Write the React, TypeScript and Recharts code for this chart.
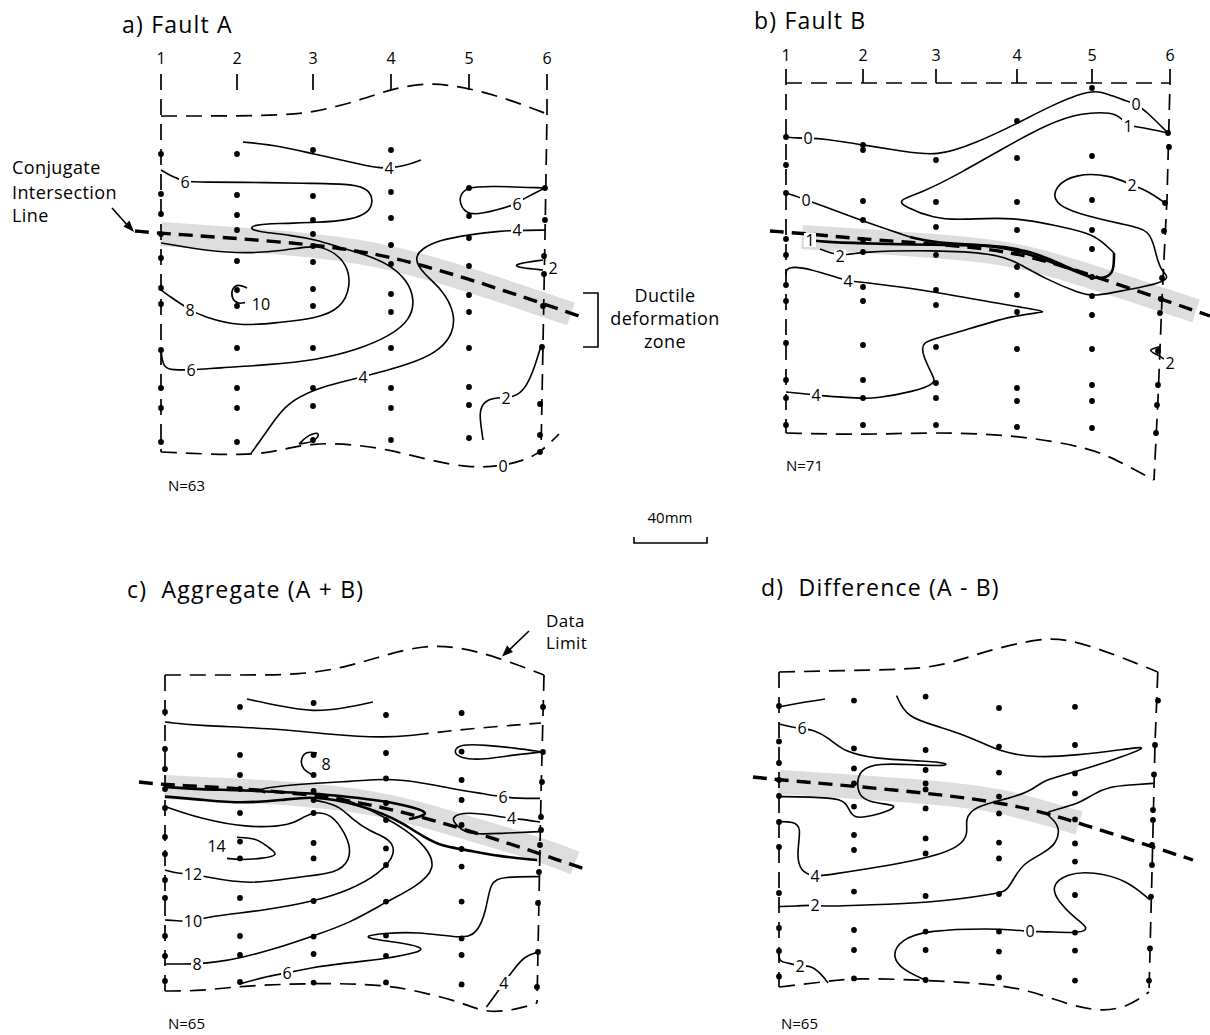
import React from 'react'
import { ComposedChart, Line, Scatter, XAxis, YAxis } from 'recharts'

type Pt = [number, number]
type Tag = [number, number, string]

// All positions are in mm on the sampled face: x from column 1, y down from the top data limit.
const COL_LABELS = ['1', '2', '3', '4', '5', '6']

// ---------- a) Fault A ----------
const A_COLS = [0, 38, 76, 115, 154, 193]
const A_DEPTHS = [
  [19, 39, 49, 59, 71, 86, 94, 117, 136, 146, 163],
  [19, 39.5, 49.5, 57, 72.5, 87, 95, 116, 136, 146, 163],
  [17, 40, 52, 59, 65, 73, 86.5, 95, 116, 136, 145, 162],
  [17, 38, 51, 64.5, 74, 89, 98, 116, 136, 146, 162],
  [36, 50, 61, 75, 89.5, 98, 116, 135.5, 144.5, 161],
]
const A_COL6: Pt[] = [[192, 36], [192, 52], [191.5, 70], [191.5, 79], [191, 95], [190.5, 115.5], [189.5, 144], [189.5, 159.5], [189.5, 168]]
const A_TOP: Pt[] = [[0, 0], [54, 0], [76, -1.5], [100, -8], [115, -13.5], [134, -17], [154, -14], [175, -8], [193, -1]]
const A_LEFT: Pt[] = [[0, -21], [0, 168]]
const A_RIGHT: Pt[] = [[193, -21], [193, -1], [192, 60], [190, 168]]
const A_BOTTOM: Pt[] = [[0, 168], [44, 170], [60, 167], [76, 163.5], [95, 164], [115, 167], [134, 172], [154, 176], [171, 175], [182, 172], [190, 168], [199, 159]]
const A_CONJ: Pt[] = [[-13, 57.5], [0, 58.7], [76, 63.7], [124.5, 71.2], [209, 100]]
const A_ZONE: Pt[] = [[0, 59], [76, 64], [124, 71.5], [205, 99]]
const A_C4_TOP: Pt[] = [[41, 13], [60, 15], [76, 19], [95, 23], [108, 26], [114, 26], [122, 25], [130, 22]]
const A_C6: Pt[] = [[0, 27], [5, 30], [12, 33], [20, 33], [55, 33.3], [74, 33.7], [97, 34], [104, 37], [106, 42], [104.5, 48], [95, 52], [78, 53.3], [58, 53.7], [46, 54.5], [44.5, 56.5], [49.5, 58], [64.5, 59.5], [78, 62], [88, 65.3], [103, 69.5], [114.5, 74.5], [123, 82], [127, 92], [124.5, 102], [114.5, 110], [98, 117], [78, 122], [53, 124.5], [28, 126], [15, 127], [6, 127], [1, 126], [0, 117]]
const A_C8: Pt[] = [[0, 63.5], [14.5, 66], [38, 69], [61, 67.5], [76, 64.5], [85, 67], [93, 73.7], [95, 85.3], [90, 96.2], [78, 101.2], [58, 103.3], [39.5, 105.3], [21, 100.3], [14.5, 97], [4.5, 90.3], [0, 87]]
const A_C10: Pt[] = [[43, 86], [38.7, 84], [35.3, 86.2], [35.3, 91.2], [38.2, 94], [42, 93.3]]
const A_C4_MID: Pt[] = [[192, 57], [178, 57.3], [171, 57.3], [153, 59.5], [139.5, 62], [130.3, 66.2], [126.5, 71.5], [131, 78.7], [141, 87], [147, 98.7], [146, 108.7], [139.5, 117], [128, 122.8], [111, 127.8], [101, 130.3], [90, 133], [78, 136.2], [62.4, 143.7], [54.6, 155.3], [45, 168.7]]
const A_C6_LOOP: Pt[] = [[192, 36], [180, 42], [178, 44], [168, 47], [155, 50], [150, 46], [149, 40], [153, 35.5], [165, 35], [192, 36]]
const A_C2_LOOP: Pt[] = [[191, 72], [183, 73], [176, 74.5], [180, 76], [191, 77]]
const A_C2_LOW: Pt[] = [[190, 115], [187, 125], [183, 135], [178, 140], [172.5, 141], [163, 141], [159, 147], [160, 155], [161, 162]]
const A_C0_LOOP: Pt[] = [[69, 164], [74, 159], [80, 158], [77, 163], [69, 164]]
const A_TAGS: Tag[] = [[114, 26, '4'], [12, 33, '6'], [15, 127, '6'], [14.5, 97, '8'], [50, 94, '10'], [101, 130.5, '4'], [178, 57.3, '4'], [178, 44, '6'], [196, 76, '2'], [172.5, 141, '2'], [171, 175, '0']]

// ---------- b) Fault B ----------
const B_COLS = [0, 38.5, 75, 115.5, 153, 192]
const B_DEPTHS = [
  [27, 41, 55, 78, 86, 101, 109, 130, 148.5, 157.5, 171],
  [31, 33.5, 59, 68.5, 78.5, 84.5, 102, 109, 131, 148.5, 157.5, 171],
  [38.5, 59.5, 72, 86, 103.5, 111, 132, 150, 157.5, 171],
  [19, 37.5, 59.5, 73.5, 84, 92, 106, 114.5, 133, 152.5, 159, 172],
  [2.5, 36.5, 58.5, 73.5, 83, 97, 106.5, 116, 133, 151, 159, 172.5],
]
const B_COL6: Pt[] = [[191, 25], [191.5, 32], [189.5, 60], [189, 74], [188, 97.5], [187.5, 108], [187, 115], [186, 134], [186, 151], [185.5, 161], [185, 175]]
const B_TOP: Pt[] = [[0, 0], [192, 0]]
const B_LEFT: Pt[] = [[0, -7], [0, 175]]
const B_RIGHT: Pt[] = [[192, -7], [192, 0], [190.5, 58], [188, 108], [186, 158], [184, 198.5]]
const B_BOTTOM: Pt[] = [[0, 175], [38.5, 176], [75, 174.5], [115.5, 176], [153, 182.5], [168, 190], [184, 198.5]]
const B_CONJ: Pt[] = [[-8, 74], [18, 76], [37, 78], [75, 80.5], [114, 84], [150, 95], [212, 116.5]]
const B_ZONE: Pt[] = [[8, 77], [40, 79], [75, 81.5], [114, 85], [150, 96], [175, 104], [205, 114]]
const B_C0_TOP: Pt[] = [[0, 27], [6, 27.5], [11, 27.7], [18, 27.7], [38.5, 31], [58, 34], [75.5, 36.8], [95, 30], [115.7, 20.2], [131.5, 11.8], [153, 2.7], [162, 6], [170, 9], [175, 10.5], [180, 14], [191, 25]]
const B_C1_BAND: Pt[] = [[12, 78.5], [17, 79.3], [37, 80.2], [74, 81], [104, 81], [120, 83.5], [137, 90], [152, 97.7], [160, 97.7], [164, 94.3], [164, 85]]
const B_C1_UPPER: Pt[] = [[164, 85], [154, 75.2], [137, 71.8], [114, 66.8], [87, 68.5], [74, 67.7], [59, 61.8], [56, 58.5], [67, 55.2], [87, 45.2], [107, 33.5], [131.5, 20.2], [147, 15], [163.5, 14.5], [168, 18], [171, 21.5], [177, 22], [191, 25]]
const B_C0_LOW: Pt[] = [[0, 55], [5, 56.5], [10, 58.5], [20, 62], [37, 68.5], [62, 77]]
const B_C0_BAND: Pt[] = [[62, 77], [74, 80], [100, 81], [114, 83], [137, 91], [152, 97]]
const B_C2: Pt[] = [[189.5, 60], [181, 54], [173, 51], [162, 46], [145, 45.2], [134, 51.8], [134, 60.2], [145, 65.2], [170, 71], [182, 73.5], [184.5, 83.5], [187, 93.5], [192, 97], [187, 100.2], [170, 103.5], [154, 106.8], [147, 105.2], [129, 97.7], [115, 89.3], [104, 85.2], [74, 83.5], [37, 84.3], [27, 86.8], [17, 83]]
const B_C4: Pt[] = [[0, 96], [0, 91.5], [12, 92.7], [31, 99.3], [37, 99.3], [75, 104.3], [114, 111.8], [135, 114.7], [115, 115.2], [80, 126.8], [67, 129.3], [68.7, 136.8], [73.6, 146.8], [75, 150.2], [64, 154.3], [44.6, 157.7], [38.5, 157.7], [26, 157], [15, 156], [0, 154.5]]
const B_C2_LOW: Pt[] = [[187, 131.8], [180.3, 133.5], [186, 136], [189, 138]]
const B_TAGS: Tag[] = [[11, 27.7, '0'], [175, 10.5, '0'], [171, 21.5, '1'], [10, 58.5, '0'], [12, 78.5, '1'], [27, 86.8, '2'], [173, 51, '2'], [31, 99.3, '4'], [15, 156, '4'], [192, 140, '2']]

// ---------- c) Aggregate (A + B) ----------
const C_COLS = [0, 37.5, 74.3, 110.5, 148.3, 188]
const C_DEPTHS = [
  [18.5, 37, 47, 57, 66.5, 81, 89.5, 102.5, 111.5, 130.5, 140.5, 153],
  [16, 40, 50, 57, 69, 83.3, 91.7, 111.5, 130.5, 140, 153.5],
  [14, 40, 50, 58, 62.5, 69, 84, 91.7, 113, 130.8, 139.5, 153.8],
  [20, 39, 51.7, 64, 72.5, 86.7, 95, 113.3, 130.3, 140.5, 153.7],
  [19, 38.3, 52.5, 62.5, 75, 87, 95.8, 113.3, 131.7, 140, 154.7],
]
const C_COL6: Pt[] = [[189, 16], [189, 38.5], [188.5, 53.5], [188, 71], [188, 77.5], [187.5, 85], [187, 98.5], [186.5, 114], [186.5, 138.5], [186, 156]]
const C_TOP: Pt[] = [[0, 0], [37, 0], [68, 0], [91, -4], [110, -10], [130, -15], [147, -14], [166, -9], [189.5, 0]]
const C_LEFT: Pt[] = [[0, 0], [0, 158]]
const C_RIGHT: Pt[] = [[189.5, 0], [188, 60], [186, 164]]
const C_BOTTOM: Pt[] = [[0, 158], [18, 158], [37, 155.5], [74, 154], [110.5, 154.7], [130, 159], [148, 163.5], [160, 169], [175, 167.5], [186, 164]]
const C_CONJ: Pt[] = [[-13, 53.5], [0, 55], [72.5, 58.3], [132.5, 70.8], [209, 96.7]]
const C_ZONE: Pt[] = [[0, 56], [40, 58], [75, 60], [110, 64.5], [150, 76], [190, 88], [205, 94]]
const C_C_TOP: Pt[] = [[41, 12], [57, 15.5], [74, 18.5], [90, 16.5], [104, 13.5]]
const C_C6A: Pt[] = [[0, 23.5], [18, 25.5], [52, 26.5], [82, 29.7], [110, 31.5], [125, 30]]
const C_C6A_TAIL: Pt[] = [[125, 30], [150, 27], [188, 24]]
const C_LOOP5: Pt[] = [[188.5, 38.5], [170, 40.5], [158, 42.5], [147, 41.5], [144, 38], [148, 34.5], [160, 35], [175, 36.5], [188.5, 38.5]]
const C_LOOP8: Pt[] = [[74, 50], [69, 47.5], [67.5, 42.5], [70.5, 38], [76, 39]]
const C_C6: Pt[] = [[50, 59], [46, 57], [60, 55.3], [72.5, 54.2], [92.5, 53.3], [110.8, 51.7], [126, 53.3], [142.5, 56.7], [160, 59.5], [169, 61], [176, 61.7], [187.5, 61.7]]
const C_BAND1: Pt[] = [[0, 56], [17.5, 57.2], [37.5, 57.5], [55, 58.5], [72.5, 59], [92.5, 61], [109, 63], [124, 66], [132, 69], [127, 71], [122, 72]]
const C_BAND2: Pt[] = [[0, 60.8], [20, 62.5], [37.5, 64.2], [59, 62.5], [72.5, 60.8], [86, 62.5], [96, 65], [109, 69.2], [119, 74.2], [129, 80.8], [139, 85.8], [148.3, 87], [167.5, 90.8], [186, 92.5]]
const C_LOBE4: Pt[] = [[187.5, 73.5], [177, 72], [173.3, 71.7], [167.5, 70.8], [151, 68.3], [142.5, 70.8], [146, 75.8], [152.5, 80], [167.5, 79.2], [187.5, 78.3]]
const C_C12: Pt[] = [[0, 65.8], [17, 71.7], [42, 76.7], [64, 75], [69, 70.8], [76, 68.3], [83, 70], [88, 75.8], [92.5, 84.5], [92.5, 92.5], [86, 99.2], [67, 100.8], [42, 105], [20, 100.8], [14, 99.5], [8, 99.5], [0, 97.5]]
const C_C14: Pt[] = [[36, 81.2], [46, 81.7], [51, 85.8], [57.5, 90], [49, 91.7], [37.5, 92.5], [31, 91.7]]
const C_C10: Pt[] = [[0, 122.5], [8, 123], [14, 123.3], [21, 120.8], [51, 117.5], [74, 113.3], [92.5, 107.5], [107.5, 99.2], [115.8, 89.2], [112.5, 81.7], [102.5, 78.3], [94, 72.5], [87.5, 65.8], [80, 63.5], [74, 62.5]]
const C_C8: Pt[] = [[0, 144.5], [8, 144.5], [16, 144.5], [26, 143.5], [37.5, 141.5], [55, 137], [74, 130.5], [92.5, 124], [110.8, 113.3], [125.8, 105.8], [135.8, 96.7], [130.8, 85.8], [119, 76.5], [109, 70.8], [96, 64.2], [85, 60.5]]
const C_C6B: Pt[] = [[37, 154.5], [52, 150.5], [61, 149], [72, 146.5], [90, 144], [110, 142], [128, 138.5], [129, 136], [115, 133.5], [103, 132], [100, 130.5], [109, 129.2], [126, 128.3], [148, 131.7], [155.8, 130], [160.8, 117.5], [162.5, 103.3], [169, 100.8], [187, 100.8]]
const C_C4B: Pt[] = [[186, 138.7], [180, 140.4], [174.3, 147.2], [169.4, 154], [164.6, 160.8], [160.7, 166]]
const C_TAGS: Tag[] = [[80.5, 44.5, '8'], [169, 61, '6'], [173.3, 71.7, '4'], [25.8, 85.8, '14'], [14, 99.5, '12'], [14, 123.3, '10'], [16, 144.5, '8'], [61, 149, '6'], [169.4, 154, '4']]

// ---------- d) Difference (A - B) ----------
const D_COLS = [0, 37.5, 73.3, 110, 148, 188]
const D_DEPTHS = [
  [17, 34.7, 45.5, 54, 62, 75, 87.5, 110.5, 128, 139.5, 152.2],
  [14.3, 38.2, 48.2, 55.7, 67.3, 81.5, 89, 109.8, 129, 139, 153.2],
  [12.3, 39, 49, 55.7, 58.7, 68.2, 83.2, 90.7, 112, 129.8, 139, 154],
  [18, 37.3, 50.3, 62.3, 70.7, 85.3, 93.2, 111, 129.8, 139.8, 152.7],
  [17.4, 36.5, 50.7, 60.7, 73.7, 85.7, 94.8, 111.5, 130.3, 139.3, 154.3],
]
const D_COL6: Pt[] = [[189.5, 14.3], [188, 36.5], [187.5, 51.2], [187, 69], [187, 74], [186.5, 86.5], [186.5, 96.5], [186, 112.3], [185.5, 138.2], [185, 154.3]]
const D_TOP: Pt[] = [[0, 0], [48, -1], [75, -1.8], [90.6, -6], [106, -11.2], [131, -17], [144.7, -16.3], [164, -10.3], [189.4, 0]]
const D_LEFT: Pt[] = [[0, 0], [0, 157.5]]
const D_RIGHT: Pt[] = [[189.4, 0], [188, 36], [186.5, 100], [185, 160]]
const D_BOTTOM: Pt[] = [[0, 157.5], [25, 154.6], [37.5, 153], [73, 154], [106, 156], [125, 159], [145, 166.5], [162, 170], [175, 167], [185, 160]]
const D_CONJ: Pt[] = [[-13, 52.5], [0, 54], [110, 63.2], [150, 75.5], [207, 94]]
const D_ZONE: Pt[] = [[0, 55], [40, 57.5], [75, 60], [110, 63.5], [150, 75.5]]
const D_C6A: Pt[] = [[0, 17.5], [10, 15.5], [23, 13.5]]
const D_C6: Pt[] = [[0, 26], [6, 27.5], [11.5, 28.3], [17, 28.8], [25, 33], [32.7, 40], [48, 43.5], [73, 44.5], [84, 45.5], [83.8, 47], [70, 46.5], [49, 45.5], [40.5, 49], [38.8, 55.7], [40.5, 63.2], [48.8, 65.7], [58.8, 66.5], [56.3, 69], [45.5, 72.3], [37.2, 73.2], [34.7, 68.2], [32.2, 63.2], [15, 62.5], [0, 62.3]]
const D_C4: Pt[] = [[58.8, 11.8], [63.6, 22.8], [81, 27.5], [98, 33.5], [110.5, 40], [128.8, 43], [150, 41.5], [170, 39], [187.5, 36.5], [167, 44], [149, 49.8], [132, 54], [127, 59], [115.5, 63.2], [97, 67.3], [93, 74], [94.7, 80.7], [90.5, 87.3], [77, 92.3], [57, 96.5], [24, 101.5], [18, 102.3], [10.5, 99.8], [8.8, 90.7], [11.3, 77.3], [7, 74.8], [0, 74.8]]
const D_C2: Pt[] = [[187.2, 55.7], [175, 56.5], [165.5, 57.3], [157, 61], [149, 66.5], [132, 70], [135.5, 72.3], [140.5, 77.3], [139, 85.7], [132, 90.7], [122, 95.7], [117, 104], [114, 109], [110.5, 110.7], [74, 115.7], [40.5, 116.5], [24, 117.3], [18, 116.5], [8, 117], [0, 117.3]]
const D_C0: Pt[] = [[185.5, 114], [174, 104], [157, 99.8], [144, 100.7], [135.5, 107.3], [140.5, 115.7], [147, 122.3], [155.5, 128.2], [150.5, 130.7], [134, 129.8], [125.5, 129.8], [117, 129], [107, 128.2], [74, 129], [60.5, 134], [56.3, 142.3], [62, 149], [73, 154]]
const D_C2B: Pt[] = [[0, 140.7], [0, 144.8], [5, 145.5], [10.5, 147.3], [15.5, 146.5], [21, 150.7], [24.5, 155.5]]
const D_TAGS: Tag[] = [[11.5, 28.3, '6'], [18, 102.3, '4'], [18, 116.5, '2'], [125.5, 129.8, '0'], [10.5, 147.3, '2']]

// ---------- drawing ----------
const INK = '#000'
const FONT = '"Open Sans", "DejaVu Sans", sans-serif'

type Kind = 'thin' | 'heavy' | 'limit' | 'edge' | 'tick' | 'conj' | 'zone' | 'dashed'
const STYLE: Record<Kind, any> = {
  zone: { stroke: '#d2d2d2', strokeWidth: 24, strokeOpacity: 0.75, type: 'basis' },
  thin: { stroke: INK, strokeWidth: 1.6, type: 'basis' },
  heavy: { stroke: INK, strokeWidth: 2.6, type: 'basis' },
  dashed: { stroke: INK, strokeWidth: 1.6, strokeDasharray: '14 9', type: 'basis' },
  limit: { stroke: INK, strokeWidth: 1.7, strokeDasharray: '16 9', type: 'basis' },
  edge: { stroke: INK, strokeWidth: 1.7, strokeDasharray: '16 9', type: 'linear' },
  tick: { stroke: INK, strokeWidth: 1.7, type: 'linear' },
  conj: { stroke: INK, strokeWidth: 3.4, strokeDasharray: '14 8', type: 'basis' },
}

const rows = (pts: Pt[]) => pts.map(([x, y]) => ({ x, y }))
const gridDots = (cols: number[], depths: number[][], edge: Pt[]) => [
  ...depths.flatMap((d, i) => d.map((y) => ({ x: cols[i], y }))),
  ...rows(edge),
]
const ticks = (cols: number[], from: number, to: number): [Pt[], Kind][] =>
  cols.slice(1, 5).map((x) => [[[x, from], [x, to]], 'tick'])

const SampleDot = (p: any) => <circle cx={p.cx} cy={p.cy} r={2.9} fill={INK} />

const ContourTag = (p: any) => {
  const t = String(p.payload?.t ?? '')
  const w = t.length * 9 + 3
  return (
    <g>
      <rect x={p.cx - w / 2} y={p.cy - 7} width={w} height={14} fill="#fff" />
      <text x={p.cx} y={p.cy} dy="0.36em" textAnchor="middle" fontSize={16} fontFamily={FONT} fill={INK} stroke="none">{t}</text>
    </g>
  )
}

const ColumnHead = (p: any) => (
  <text x={p.cx} y={p.cy} dy="0.36em" textAnchor="middle" fontSize={16} fontFamily={FONT} fill={INK} stroke="none">
    {String(p.payload?.t ?? '')}
  </text>
)

interface PanelSpec {
  left: number
  top: number
  width: number
  height: number
  xDomain: [number, number]
  yDomain: [number, number]
  traces: [Pt[], Kind][]
  dots: { x: number; y: number }[]
  tags: Tag[]
  cols?: number[]
  colY?: number
}

function Panel({ spec }: { spec: PanelSpec }) {
  const tags = spec.tags.map(([x, y, t]) => ({ x, y, t }))
  const heads = spec.cols ? spec.cols.map((x, i) => ({ x, y: spec.colY, t: COL_LABELS[i] })) : []
  return (
    <div style={{ position: 'absolute', left: spec.left, top: spec.top }}>
      <ComposedChart width={spec.width} height={spec.height} margin={{ top: 0, right: 0, bottom: 0, left: 0 }}>
        <XAxis type="number" dataKey="x" domain={spec.xDomain} allowDataOverflow hide height={0} />
        <YAxis type="number" dataKey="y" domain={spec.yDomain} allowDataOverflow reversed hide width={0} />
        {spec.traces.map(([pts, kind], i) => {
          const s = STYLE[kind]
          return (
            <Line
              key={i}
              data={rows(pts)}
              dataKey="y"
              type={s.type}
              stroke={s.stroke}
              strokeWidth={s.strokeWidth}
              strokeDasharray={s.strokeDasharray}
              strokeOpacity={s.strokeOpacity ?? 1}
              dot={false}
              activeDot={false}
              legendType="none"
              isAnimationActive={false}
            />
          )
        })}
        <Scatter data={spec.dots} shape={SampleDot} isAnimationActive={false} />
        <Scatter data={tags} shape={ContourTag} isAnimationActive={false} />
        {heads.length > 0 && <Scatter data={heads} shape={ColumnHead} isAnimationActive={false} />}
      </ComposedChart>
    </div>
  )
}

const PANELS: PanelSpec[] = [
  {
    left: 0, top: 0, width: 605, height: 500, xDomain: [-80.5, 222], yDomain: [-58, 192],
    traces: [
      [A_ZONE, 'zone'], [A_TOP, 'limit'], [A_BOTTOM, 'limit'], [A_LEFT, 'edge'], [A_RIGHT, 'edge'],
      ...ticks(A_COLS, -21, -13),
      [A_C4_TOP, 'thin'], [A_C6, 'thin'], [A_C8, 'thin'], [A_C10, 'thin'], [A_C4_MID, 'thin'],
      [A_C6_LOOP, 'thin'], [A_C2_LOOP, 'thin'], [A_C2_LOW, 'thin'], [A_C0_LOOP, 'thin'],
      [A_CONJ, 'conj'],
    ],
    dots: gridDots(A_COLS, A_DEPTHS, A_COL6), tags: A_TAGS, cols: A_COLS, colY: -29,
  },
  {
    left: 605, top: 0, width: 605, height: 500, xDomain: [-90.5, 212], yDomain: [-41.5, 208.5],
    traces: [
      [B_ZONE, 'zone'], [B_TOP, 'edge'], [B_BOTTOM, 'limit'], [B_LEFT, 'edge'], [B_RIGHT, 'edge'],
      ...ticks(B_COLS, -7, 0),
      [B_C0_TOP, 'thin'], [B_C1_UPPER, 'thin'], [B_C1_BAND, 'heavy'], [B_C0_LOW, 'thin'], [B_C0_BAND, 'heavy'],
      [B_C2, 'thin'], [B_C4, 'thin'], [B_C2_LOW, 'thin'],
      [B_CONJ, 'conj'],
    ],
    dots: gridDots(B_COLS, B_DEPTHS, B_COL6), tags: B_TAGS, cols: B_COLS, colY: -14,
  },
  {
    left: 0, top: 500, width: 605, height: 535, xDomain: [-82.5, 220], yDomain: [-87.5, 180],
    traces: [
      [C_ZONE, 'zone'], [C_TOP, 'limit'], [C_BOTTOM, 'limit'], [C_LEFT, 'edge'], [C_RIGHT, 'edge'],
      [C_C_TOP, 'thin'], [C_C6A, 'thin'], [C_C6A_TAIL, 'dashed'], [C_LOOP5, 'thin'], [C_LOOP8, 'thin'],
      [C_C6, 'thin'], [C_BAND1, 'heavy'], [C_BAND2, 'heavy'], [C_LOBE4, 'thin'], [C_C12, 'thin'],
      [C_C14, 'thin'], [C_C10, 'thin'], [C_C8, 'thin'], [C_C6B, 'thin'], [C_C4B, 'thin'],
      [C_CONJ, 'conj'],
    ],
    dots: gridDots(C_COLS, C_DEPTHS, C_COL6), tags: C_TAGS,
  },
  {
    left: 605, top: 500, width: 605, height: 535, xDomain: [-87, 215.5], yDomain: [-86, 181.5],
    traces: [
      [D_ZONE, 'zone'], [D_TOP, 'limit'], [D_BOTTOM, 'limit'], [D_LEFT, 'edge'], [D_RIGHT, 'edge'],
      [D_C6A, 'thin'], [D_C6, 'thin'], [D_C4, 'thin'], [D_C2, 'thin'], [D_C0, 'thin'], [D_C2B, 'thin'],
      [D_CONJ, 'conj'],
    ],
    dots: gridDots(D_COLS, D_DEPTHS, D_COL6), tags: D_TAGS,
  },
]

function Notes() {
  const title = { fontSize: 23, letterSpacing: 1.2, fill: INK, fontFamily: FONT, style: { whiteSpace: 'pre' as const } }
  const note = { fontSize: 18, letterSpacing: 0.4, fill: INK, fontFamily: FONT }
  const small = { fontSize: 15, fill: INK, fontFamily: FONT }
  return (
    <svg width={1210} height={1035} style={{ position: 'absolute', left: 0, top: 0, pointerEvents: 'none' }}>
      <text x={122} y={33} {...title}>a) Fault A</text>
      <text x={754} y={29} {...title}>b) Fault B</text>
      <text x={127} y={598} {...title}>{'c)  Aggregate (A + B)'}</text>
      <text x={761} y={596} {...title}>{'d)  Difference (A - B)'}</text>

      <text x={12} y={173.5} {...note}>Conjugate</text>
      <text x={12} y={198.5} {...note}>Intersection</text>
      <text x={12} y={221.5} {...note}>Line</text>
      <line x1={112} y1={208} x2={129} y2={227} stroke={INK} strokeWidth={1.6} />
      <polygon points="134,232 123.5,226.5 129.5,220.5" fill={INK} />

      <path d="M583,293 H598 V347 H583" fill="none" stroke={INK} strokeWidth={1.6} />
      <text x={665} y={301.5} textAnchor="middle" {...note}>Ductile</text>
      <text x={665} y={324.5} textAnchor="middle" {...note}>deformation</text>
      <text x={665} y={347.5} textAnchor="middle" {...note}>zone</text>

      <text x={546} y={627} {...note} fontSize={17}>Data</text>
      <text x={546} y={649} {...note} fontSize={17}>Limit</text>
      <line x1={529} y1={631} x2={507} y2={652} stroke={INK} strokeWidth={1.6} />
      <polygon points="502,656.5 507,645.5 513,652" fill={INK} />

      <text x={670} y={523} textAnchor="middle" {...small}>40mm</text>
      <path d="M634,537 V543 H707 V537" fill="none" stroke={INK} strokeWidth={1.6} />

      <text x={168} y={491} {...small}>N=63</text>
      <text x={786} y={471} {...small}>N=71</text>
      <text x={168} y={1029} {...small}>N=65</text>
      <text x={781} y={1029} {...small}>N=65</text>
    </svg>
  )
}

export default function App() {
  return (
    <div style={{ position: 'absolute', left: 0, top: 0, width: 1210, height: 1035, background: '#fff', overflow: 'hidden', fontFamily: FONT }}>
      {PANELS.map((p, i) => (
        <Panel key={i} spec={p} />
      ))}
      <Notes />
    </div>
  )
}
